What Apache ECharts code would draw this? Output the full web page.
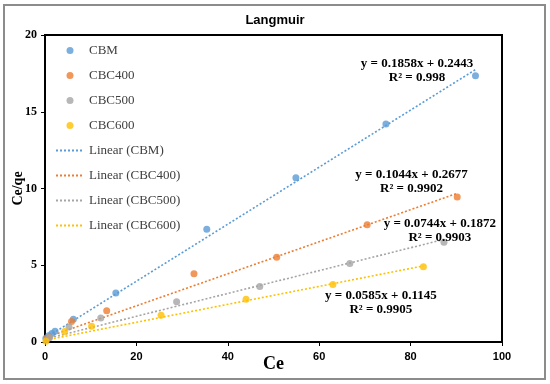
<!DOCTYPE html>
<html><head><meta charset="utf-8">
<script src="https://cdn.jsdelivr.net/npm/echarts@6/dist/echarts.min.js"></script>
<style>html,body{margin:0;padding:0;background:#fff}#c{width:550px;height:384px}</style>
</head><body><div id="c"></div>
<script>
const seriesNames = ['CBM','CBC400','CBC500','CBC600'];
const colors = ['#5B9BD5','#ED7D31','#A5A5A5','#FFC000'];
const cbm = [[0.2,0.25],[0.8,0.4],[1.5,0.55],[2.2,0.7],[6.2,1.49],[15.5,3.2],[35.4,7.35],[54.9,10.7],[74.6,14.2],[94.2,17.35]];
const cbc400 = [[0.3,0.2],[0.9,0.3],[5.8,1.34],[13.5,2.03],[32.6,4.44],[50.7,5.52],[70.5,7.64],[90.2,9.44]];
const cbc500 = [[0.3,0.15],[1,0.3],[5.25,0.97],[12.2,1.56],[28.8,2.62],[47.0,3.61],[66.7,5.11],[87.3,6.5]];
const cbc600 = [[0.2,0.05],[4.3,0.69],[10.2,1.02],[25.4,1.75],[44.0,2.79],[63.0,3.75],[82.8,4.91]];
const slopes = [0.1858,0.1044,0.0744,0.0585];
const intercepts = [0.2443,0.2677,0.1872,0.1145];
const r2 = ['0.998','0.9902','0.9903','0.9905'];
const eqLabelAt = [[81.4,17.69],[80.2,10.44],[86.4,7.27],[73.5,2.56]];
const xTicks = {min:0,max:100,interval:20};
const yTicks = {min:0,max:20,interval:5};

const allData = [cbm,cbc400,cbc500,cbc600];
const series = [];
allData.forEach((d,i)=>{
  series.push({name:seriesNames[i],type:'scatter',data:d,symbolSize:7,itemStyle:{color:colors[i]},z:3});
});
allData.forEach((d,i)=>{
  const xs = d.map(p=>p[0]);
  const x0 = Math.min(...xs), x1 = Math.max(...xs);
  const f = x=>slopes[i]*x+intercepts[i];
  series.push({
    name:'Linear ('+seriesNames[i]+')',type:'line',symbol:'none',showSymbol:false,
    data:[[x0,f(x0)],[x1,f(x1)]],
    lineStyle:{color:colors[i],width:1.6,type:[2,2]},itemStyle:{color:colors[i]},z:2,
    markPoint:{symbol:'circle',symbolSize:0,silent:true,
      data:[{coord:eqLabelAt[i],
        label:{show:true,position:'inside',
          formatter:'y = '+slopes[i]+'x + '+intercepts[i]+'\nR² = '+r2[i],
          fontFamily:'Liberation Serif',fontWeight:'bold',fontSize:13,color:'#000',lineHeight:14.5,align:'center'}}]}
  });
});
const chart = echarts.init(document.getElementById('c'),null,{renderer:'canvas'});
chart.setOption({
  animation:false,
  backgroundColor:'#fff',
  title:{text:'Langmuir',left:'center',top:9,textStyle:{fontFamily:'Liberation Sans',fontWeight:'bold',fontSize:13,color:'#000'}},
  graphic:[{type:'rect',shape:{x:4,y:5,width:541,height:374},style:{fill:'none',stroke:'#8c8c8c',lineWidth:2},silent:true}],
  grid:{left:45,right:48,top:35,bottom:42,show:true,borderColor:'#000',borderWidth:2,containLabel:false,outerBoundsMode:'none'},
  legend:{orient:'vertical',left:50,top:38,itemGap:10,itemWidth:28,itemHeight:7,
    textStyle:{fontFamily:'Liberation Serif',fontSize:13,color:'#404040',lineHeight:15},
    data:[
      {name:'CBM',icon:'circle'},{name:'CBC400',icon:'circle'},{name:'CBC500',icon:'circle'},{name:'CBC600',icon:'circle'},
      {name:'Linear (CBM)',itemStyle:{opacity:0}},{name:'Linear (CBC400)',itemStyle:{opacity:0}},
      {name:'Linear (CBC500)',itemStyle:{opacity:0}},{name:'Linear (CBC600)',itemStyle:{opacity:0}}]},
  xAxis:{type:'value',min:xTicks.min,max:xTicks.max,interval:xTicks.interval,
    name:'Ce',nameLocation:'middle',nameGap:13,nameMoveOverlap:false,
    nameTextStyle:{fontFamily:'Liberation Serif',fontWeight:'bold',fontSize:18,color:'#000'},
    axisLine:{lineStyle:{color:'#000',width:2}},axisTick:{show:true,length:4,lineStyle:{color:'#000'}},
    axisLabel:{fontFamily:'Liberation Sans',fontWeight:'bold',fontSize:11,color:'#000',margin:9},
    splitLine:{show:false}},
  yAxis:{type:'value',min:yTicks.min,max:yTicks.max,interval:yTicks.interval,
    name:'Ce/qe',nameLocation:'middle',nameGap:20,nameMoveOverlap:false,
    nameTextStyle:{fontFamily:'Liberation Serif',fontWeight:'bold',fontSize:14,color:'#000'},
    axisLine:{lineStyle:{color:'#000',width:2}},axisTick:{show:true,length:4,lineStyle:{color:'#000'}},
    axisLabel:{fontFamily:'Liberation Serif',fontWeight:'bold',fontSize:12,color:'#000',margin:8},
    splitLine:{show:false}},
  series:series
});
</script></body></html>
